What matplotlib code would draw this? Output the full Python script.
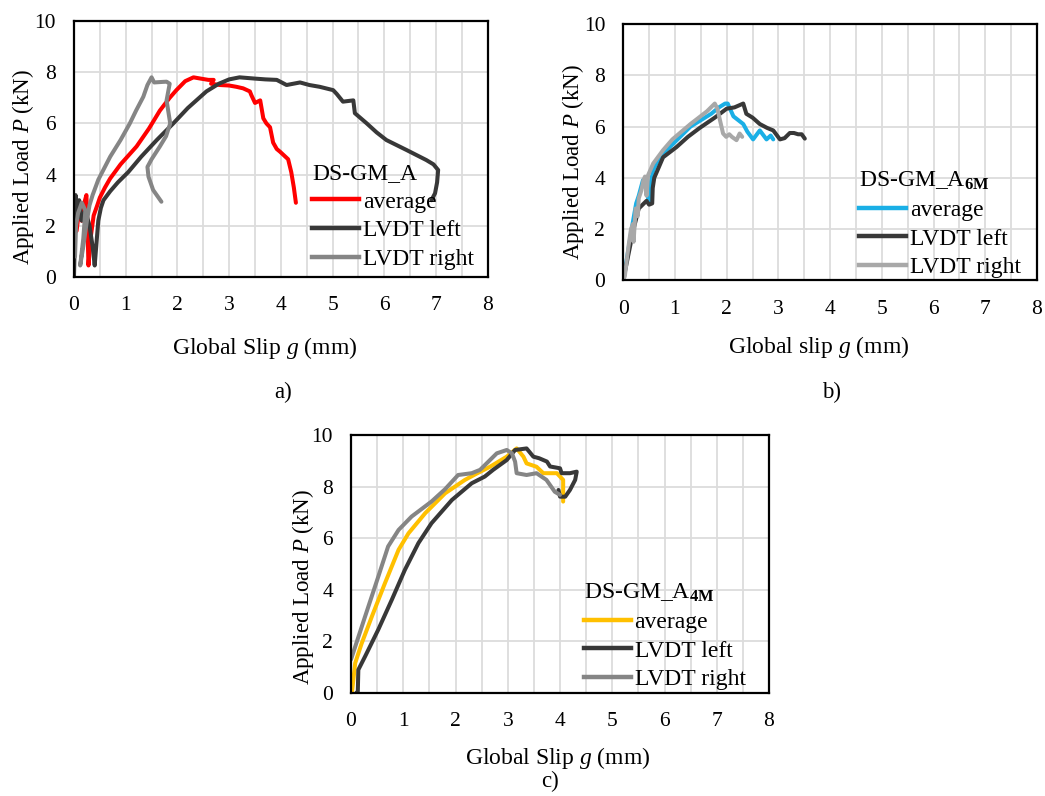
import matplotlib
matplotlib.use("Agg")
import matplotlib.pyplot as plt
from matplotlib.ticker import MultipleLocator
from matplotlib.lines import Line2D

plt.rcParams["font.family"] = ["Liberation Serif", "DejaVu Serif"]
plt.rcParams["mathtext.fontset"] = "custom"
plt.rcParams["mathtext.rm"] = "Liberation Serif"
plt.rcParams["mathtext.it"] = "Liberation Serif:italic"
plt.rcParams["mathtext.bf"] = "Liberation Serif:bold"

# ---- a) DS-GM_A ----
a_avg_x = [0.05, 0.10, 0.15, 0.20, 0.24, 0.26, 0.28, 0.32, 0.38, 0.45, 0.50, 0.60, 0.70, 0.90, 1.21, 1.45, 1.66, 1.85, 1.98, 2.15, 2.31, 2.45, 2.60, 2.70, 2.65, 2.82, 3.00, 3.14, 3.27, 3.40, 3.43, 3.50, 3.60, 3.66, 3.72, 3.79, 3.85, 3.92, 3.98, 4.06, 4.14, 4.20, 4.25, 4.29]
a_avg_y = [1.80, 2.60, 2.20, 2.90, 3.20, 2.00, 0.45, 1.50, 2.40, 2.80, 3.10, 3.50, 3.85, 4.40, 5.10, 5.80, 6.50, 7.00, 7.30, 7.65, 7.80, 7.75, 7.70, 7.70, 7.55, 7.50, 7.48, 7.43, 7.37, 7.25, 7.10, 6.80, 6.90, 6.20, 6.00, 5.85, 5.25, 5.00, 4.90, 4.75, 4.60, 4.10, 3.50, 2.90]
a_left_x = [0.00, 0.02, 0.03, 0.07, 0.10, 0.15, 0.22, 0.30, 0.36, 0.40, 0.43, 0.47, 0.52, 0.57, 0.70, 0.85, 1.05, 1.30, 1.60, 1.92, 2.20, 2.56, 2.80, 3.00, 3.20, 3.50, 3.70, 3.92, 4.11, 4.37, 4.55, 4.75, 5.01, 5.08, 5.20, 5.40, 5.43, 5.66, 5.85, 6.04, 6.43, 6.81, 6.95, 7.04, 7.02, 6.98, 6.91]
a_left_y = [0.00, 1.80, 3.20, 2.30, 3.00, 2.20, 2.60, 2.00, 1.20, 0.45, 1.20, 2.20, 2.70, 3.00, 3.35, 3.70, 4.10, 4.70, 5.35, 6.00, 6.60, 7.25, 7.55, 7.72, 7.80, 7.75, 7.72, 7.70, 7.50, 7.60, 7.50, 7.43, 7.30, 7.15, 6.85, 6.90, 6.40, 6.00, 5.65, 5.35, 4.96, 4.57, 4.40, 4.18, 3.70, 3.27, 3.00]
a_right_x = [0.02, 0.04, 0.08, 0.15, 0.22, 0.18, 0.12, 0.18, 0.25, 0.30, 0.36, 0.47, 0.70, 0.90, 1.08, 1.20, 1.34, 1.42, 1.50, 1.55, 1.70, 1.79, 1.85, 1.79, 1.86, 1.78, 1.66, 1.50, 1.42, 1.44, 1.53, 1.69]
a_right_y = [0.80, 2.00, 2.50, 2.90, 2.60, 1.50, 0.45, 1.20, 2.20, 2.80, 3.20, 3.80, 4.70, 5.35, 6.00, 6.50, 7.04, 7.50, 7.80, 7.60, 7.62, 7.63, 7.55, 6.90, 6.00, 5.50, 5.10, 4.60, 4.30, 3.92, 3.40, 2.94]

# ---- b) DS-GM_A6M ----
b_avg_x = [0.00, 0.10, 0.18, 0.25, 0.30, 0.38, 0.45, 0.48, 0.52, 0.53, 0.58, 0.70, 0.90, 1.10, 1.30, 1.50, 1.70, 1.85, 1.97, 2.02, 2.13, 2.32, 2.40, 2.51, 2.64, 2.77, 2.85, 2.90]
b_avg_y = [0.00, 1.20, 2.20, 3.00, 3.30, 3.90, 4.00, 3.20, 3.00, 3.80, 4.30, 4.80, 5.20, 5.60, 6.00, 6.25, 6.50, 6.75, 6.90, 6.90, 6.40, 6.10, 5.80, 5.50, 5.85, 5.50, 5.65, 5.50]
b_left_x = [0.00, 0.10, 0.20, 0.30, 0.45, 0.50, 0.56, 0.57, 0.60, 0.77, 1.03, 1.25, 1.48, 1.77, 2.00, 2.15, 2.32, 2.38, 2.50, 2.64, 2.78, 2.90, 3.03, 3.12, 3.22, 3.30, 3.38, 3.45, 3.51]
b_left_y = [0.00, 1.00, 2.00, 2.80, 3.10, 2.95, 3.00, 3.60, 4.00, 4.80, 5.20, 5.60, 5.95, 6.35, 6.70, 6.75, 6.90, 6.50, 6.35, 6.10, 5.95, 5.85, 5.50, 5.55, 5.75, 5.75, 5.70, 5.70, 5.53]
b_right_x = [0.00, 0.03, 0.10, 0.15, 0.19, 0.20, 0.24, 0.28, 0.30, 0.35, 0.39, 0.42, 0.45, 0.48, 0.58, 0.77, 0.95, 1.16, 1.30, 1.48, 1.62, 1.74, 1.77, 1.82, 1.87, 1.93, 1.99, 2.05, 2.10, 2.19, 2.25, 2.30]
b_right_y = [0.00, 0.15, 1.30, 2.00, 2.20, 1.50, 2.80, 2.50, 3.20, 3.50, 3.90, 4.05, 3.30, 4.10, 4.56, 5.08, 5.50, 5.86, 6.10, 6.38, 6.60, 6.84, 6.90, 6.70, 6.25, 5.73, 5.60, 5.70, 5.60, 5.47, 5.73, 5.60]

# ---- c) DS-GM_A4M ----
c_avg_x = [0.00, 0.02, 0.08, 0.20, 0.40, 0.65, 0.91, 1.10, 1.42, 1.80, 2.18, 2.40, 2.66, 2.98, 3.17, 3.30, 3.36, 3.55, 3.68, 3.94, 4.06, 4.06]
c_avg_y = [0.00, 0.06, 1.16, 1.90, 2.97, 4.26, 5.55, 6.19, 6.97, 7.74, 8.26, 8.50, 8.77, 9.16, 9.48, 9.16, 8.90, 8.77, 8.52, 8.52, 8.26, 7.42]
c_left_x = [0.10, 0.13, 0.14, 0.27, 0.52, 0.78, 1.03, 1.29, 1.54, 1.93, 2.31, 2.56, 2.72, 2.98, 3.14, 3.36, 3.49, 3.60, 3.75, 3.81, 4.00, 4.03, 4.19, 4.32, 4.29, 4.19, 4.10, 4.00, 3.97]
c_left_y = [0.00, 0.06, 0.90, 1.42, 2.45, 3.61, 4.77, 5.81, 6.58, 7.48, 8.13, 8.39, 8.65, 9.03, 9.42, 9.48, 9.16, 9.10, 8.97, 8.78, 8.71, 8.52, 8.52, 8.58, 8.26, 7.87, 7.61, 7.61, 7.87]
c_right_x = [0.00, 0.27, 0.52, 0.71, 0.91, 1.16, 1.54, 1.80, 2.05, 2.31, 2.47, 2.79, 2.98, 3.08, 3.14, 3.17, 3.36, 3.55, 3.74, 3.90, 4.00]
c_right_y = [1.30, 2.97, 4.50, 5.68, 6.32, 6.84, 7.42, 7.90, 8.45, 8.52, 8.65, 9.29, 9.42, 9.29, 8.97, 8.52, 8.45, 8.52, 8.26, 7.80, 7.68]

series_labels = ["average", "LVDT left", "LVDT right"]
DARK = "#383838"
LW = 2.9

panels = [
    dict(rect=[0.0708, 0.652, 0.396, 0.3216], title="DS-GM_A",
         series=[(a_avg_x, a_avg_y), (a_left_x, a_left_y), (a_right_x, a_right_y)],
         colors=["#FF0000", DARK, "#858585"],
         xlabel="Global Slip $g$ (mm)", xlab=(0.461, -0.277), ylab=(-0.123, 0.43),
         leg=(0.575, 0.445), tag="a)", tagpos=(283, 392)),
    dict(rect=[0.5964, 0.648, 0.396, 0.3216], title="DS-GM_A$_{\\mathbf{6M}}$",
         series=[(b_avg_x, b_avg_y), (b_left_x, b_left_y), (b_right_x, b_right_y)],
         colors=["#1AAFE6", DARK, "#A8A8A8"],
         xlabel="Global slip $g$ (mm)", xlab=(0.473, -0.262), ylab=(-0.121, 0.46),
         leg=(0.57, 0.43), tag="b)", tagpos=(832, 392)),
    dict(rect=[0.3359, 0.1294, 0.400, 0.3241], title="DS-GM_A$_{\\mathbf{4M}}$",
         series=[(c_avg_x, c_avg_y), (c_left_x, c_left_y), (c_right_x, c_right_y)],
         colors=["#FFC000", DARK, "#858585"],
         xlabel="Global Slip $g$ (mm)", xlab=(0.495, -0.252), ylab=(-0.115, 0.41),
         leg=(0.557, 0.43), tag="c)", tagpos=(550, 781)),
]

W, H = 1045, 796
fig = plt.figure(figsize=(W / 100, H / 100), dpi=100)

for p in panels:
    ax = fig.add_axes(p["rect"])
    for (xs, ys), col in zip(p["series"], p["colors"]):
        ax.plot(xs, ys, color=col, lw=LW, solid_joinstyle="round",
                solid_capstyle="round", zorder=3)
    ax.set_xlim(0, 8)
    ax.set_ylim(0, 10)
    ax.xaxis.set_major_locator(MultipleLocator(1))
    ax.xaxis.set_minor_locator(MultipleLocator(0.5))
    ax.yaxis.set_major_locator(MultipleLocator(2))
    ax.grid(True, which="major", color="#DCDCDC", lw=1.3, zorder=0)
    ax.grid(True, which="minor", axis="x", color="#DCDCDC", lw=1.3, zorder=0)
    ax.set_axisbelow(True)
    ax.tick_params(which="both", length=0, labelsize=15.5)
    ax.tick_params(axis="x", pad=14)
    ax.tick_params(axis="y", pad=13)
    for s in ax.spines.values():
        s.set_linewidth(1.6)
        s.set_color("black")
        s.set_zorder(4)

    ax.set_xlabel(p["xlabel"], fontsize=17)
    ax.xaxis.label.set_va("center")
    ax.xaxis.set_label_coords(*p["xlab"])
    ax.set_ylabel("Applied Load $P$ (kN)", fontsize=16.5)
    ax.yaxis.label.set_va("center")
    ax.yaxis.set_label_coords(*p["ylab"])

    handles = [Line2D([], [], color=c, lw=3.2) for c in p["colors"]]
    leg = ax.legend(handles, series_labels, title=p["title"], loc="upper left",
                    bbox_to_anchor=p["leg"], frameon=False, fontsize=17,
                    title_fontsize=17, handlelength=2.0, handletextpad=0.15,
                    labelspacing=0.3, borderpad=0, borderaxespad=0,
                    alignment="left")
    leg.set_zorder(5)

    fig.text(p["tagpos"][0] / W, 1 - p["tagpos"][1] / H, p["tag"],
             fontsize=16.5, ha="center", va="center")

fig.savefig("out.png", dpi=100)
